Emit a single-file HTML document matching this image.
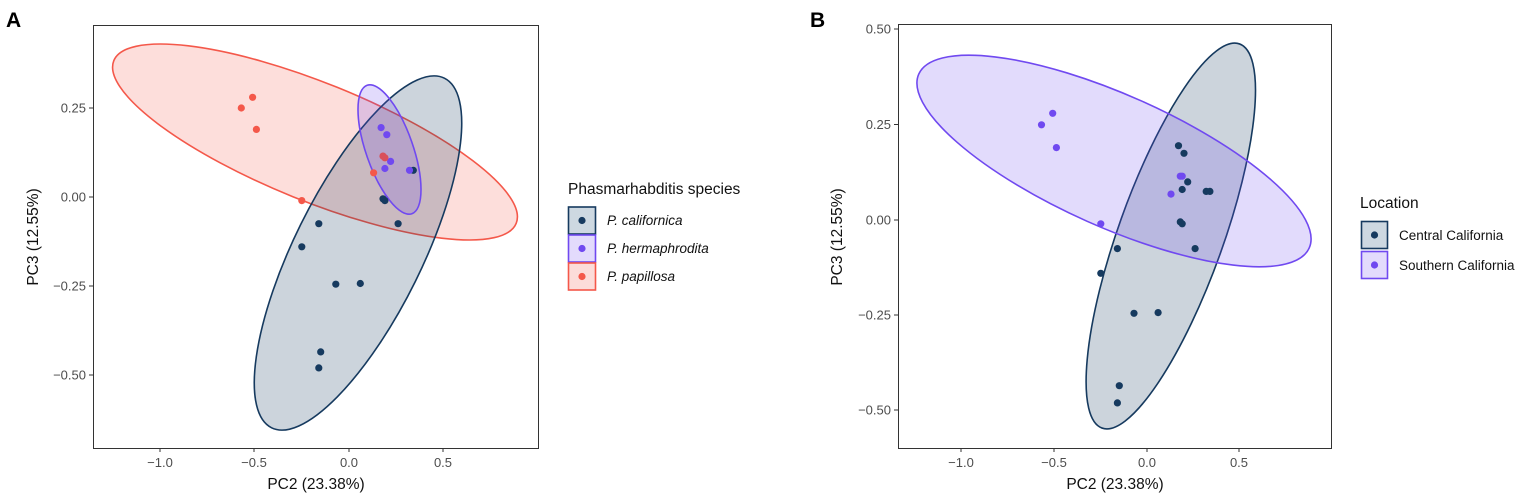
<!DOCTYPE html>
<html><head><meta charset="utf-8"><style>
body{margin:0;background:#fff}
svg{display:block;font-family:"Liberation Sans",sans-serif}
.t{font-size:13px;fill:#4d4d4d}
.at{font-size:15.5px;fill:#111}
.lg{font-size:13.5px;fill:#111}
</style></head><body>
<svg width="1535" height="497" viewBox="0 0 1535 497">
<text x="6" y="27" font-size="21" font-weight="bold">A</text>
<text x="810" y="27" font-size="21" font-weight="bold">B</text>

<!-- Panel A -->
<g>
<ellipse cx="315" cy="142" rx="217" ry="59" transform="rotate(22 315 142)" fill="rgba(244,88,74,0.2)" stroke="#F4584A" stroke-width="1.6"/>
<ellipse cx="358" cy="253" rx="195" ry="64" transform="rotate(-63.7 358 253)" fill="rgba(22,58,95,0.22)" stroke="#163A5F" stroke-width="1.6"/>
<ellipse cx="389.5" cy="149.5" rx="68" ry="23.5" transform="rotate(70.8 389.5 149.5)" fill="rgba(112,73,240,0.2)" stroke="#7049F0" stroke-width="1.6"/>
<g fill="#163A5F">
<circle cx="413.3" cy="170.3" r="3.6"/><circle cx="383" cy="198.8" r="3.6"/><circle cx="384.9" cy="200.6" r="3.6"/><circle cx="398.1" cy="223.7" r="3.6"/><circle cx="318.8" cy="223.7" r="3.6"/><circle cx="301.8" cy="246.8" r="3.6"/><circle cx="335.8" cy="284.2" r="3.6"/><circle cx="360.3" cy="283.5" r="3.6"/><circle cx="320.7" cy="351.9" r="3.6"/><circle cx="318.8" cy="367.9" r="3.6"/>
</g>
<g fill="#7049F0">
<circle cx="381.1" cy="127.6" r="3.6"/><circle cx="386.8" cy="134.7" r="3.6"/><circle cx="390.6" cy="161.4" r="3.6"/><circle cx="384.9" cy="168.5" r="3.6"/><circle cx="409.5" cy="170.3" r="3.6"/>
</g>
<g fill="#F4584A">
<circle cx="241.3" cy="108" r="3.6"/><circle cx="252.6" cy="97.3" r="3.6"/><circle cx="256.4" cy="129.4" r="3.6"/><circle cx="383" cy="156.1" r="3.6" fill="#d9505a"/><circle cx="384.9" cy="157.8" r="3.6" fill="#d9505a"/><circle cx="373.6" cy="172.8" r="3.6"/><circle cx="301.8" cy="200.6" r="3.6"/>
</g>
<rect x="93.5" y="25.5" width="445" height="423" fill="none" stroke="#333" stroke-width="1"/>
<g stroke="#333"><line x1="89" x2="93" y1="108" y2="108"/><line x1="89" x2="93" y1="197" y2="197"/><line x1="89" x2="93" y1="286" y2="286"/><line x1="89" x2="93" y1="375" y2="375"/>
<line x1="160" x2="160" y1="448" y2="452"/><line x1="254" x2="254" y1="448" y2="452"/><line x1="349" x2="349" y1="448" y2="452"/><line x1="443" x2="443" y1="448" y2="452"/></g>
<g class="t" text-anchor="end"><text x="86" y="112.5">0.25</text><text x="86" y="201.5">0.00</text><text x="86" y="290.5">−0.25</text><text x="86" y="379.5">−0.50</text></g>
<g class="t" text-anchor="middle"><text x="160" y="467">−1.0</text><text x="254" y="467">−0.5</text><text x="349" y="467">0.0</text><text x="443" y="467">0.5</text></g>
<text class="at" x="316" y="489" text-anchor="middle">PC2 (23.38%)</text>
<text class="at" transform="translate(38 237) rotate(-90)" text-anchor="middle">PC3 (12.55%)</text>
<text x="568" y="194" font-size="15.5" fill="#111">Phasmarhabditis species</text>
<rect x="568.5" y="207" width="27" height="27" fill="#cdd8e1" stroke="#163A5F" stroke-width="1.6"/><circle cx="582" cy="220.5" r="3.6" fill="#163A5F"/>
<rect x="568.5" y="235" width="27" height="27" fill="#e3dbfc" stroke="#7049F0" stroke-width="1.6"/><circle cx="582" cy="248.5" r="3.6" fill="#7049F0"/>
<rect x="568.5" y="263" width="27" height="27" fill="#fcdcd9" stroke="#F4584A" stroke-width="1.6"/><circle cx="582" cy="276.5" r="3.6" fill="#F4584A"/>
<g class="lg" font-style="italic"><text x="607" y="225">P. californica</text><text x="607" y="253">P. hermaphrodita</text><text x="607" y="281">P. papillosa</text></g>
</g>

<!-- Panel B -->
<g>
<ellipse cx="1170.8" cy="236" rx="204" ry="52.5" transform="rotate(-70.3 1170.8 236)" fill="rgba(22,58,95,0.22)" stroke="#163A5F" stroke-width="1.6"/>
<ellipse cx="1114" cy="161" rx="213.7" ry="66" transform="rotate(24 1114 161)" fill="rgba(112,73,240,0.2)" stroke="#7049F0" stroke-width="1.6"/>
<g fill="#163A5F">
<circle cx="1178.5" cy="145.7" r="3.6"/><circle cx="1184" cy="153.3" r="3.6"/><circle cx="1187.7" cy="181.9" r="3.6"/><circle cx="1182.2" cy="189.5" r="3.6"/><circle cx="1206.2" cy="191.4" r="3.6"/><circle cx="1209.9" cy="191.4" r="3.6"/><circle cx="1180.3" cy="221.9" r="3.6"/><circle cx="1182.2" cy="223.8" r="3.6"/><circle cx="1195.1" cy="248.6" r="3.6"/><circle cx="1117.4" cy="248.6" r="3.6"/><circle cx="1100.8" cy="273.3" r="3.6"/><circle cx="1134" cy="313.3" r="3.6"/><circle cx="1158.1" cy="312.6" r="3.6"/><circle cx="1119.3" cy="385.7" r="3.6"/><circle cx="1117.4" cy="402.9" r="3.6"/>
</g>
<g fill="#7049F0">
<circle cx="1041.5" cy="124.8" r="3.6"/><circle cx="1052.7" cy="113.3" r="3.6"/><circle cx="1056.4" cy="147.6" r="3.6"/><circle cx="1180.3" cy="176.2" r="3.6"/><circle cx="1182.2" cy="176.2" r="3.6"/><circle cx="1171" cy="194.1" r="3.6"/><circle cx="1100.8" cy="223.8" r="3.6"/>
</g>
<rect x="898.5" y="24.5" width="433" height="424" fill="none" stroke="#333" stroke-width="1"/>
<g stroke="#333"><line x1="894" x2="898" y1="29" y2="29"/><line x1="894" x2="898" y1="124.5" y2="124.5"/><line x1="894" x2="898" y1="220" y2="220"/><line x1="894" x2="898" y1="315" y2="315"/><line x1="894" x2="898" y1="410" y2="410"/>
<line x1="961" x2="961" y1="448" y2="452"/><line x1="1054" x2="1054" y1="448" y2="452"/><line x1="1147" x2="1147" y1="448" y2="452"/><line x1="1239" x2="1239" y1="448" y2="452"/></g>
<g class="t" text-anchor="end"><text x="891" y="33.5">0.50</text><text x="891" y="129">0.25</text><text x="891" y="224.5">0.00</text><text x="891" y="319.5">−0.25</text><text x="891" y="414.5">−0.50</text></g>
<g class="t" text-anchor="middle"><text x="961" y="467">−1.0</text><text x="1054" y="467">−0.5</text><text x="1147" y="467">0.0</text><text x="1239" y="467">0.5</text></g>
<text class="at" x="1115" y="489" text-anchor="middle">PC2 (23.38%)</text>
<text class="at" transform="translate(842 237) rotate(-90)" text-anchor="middle">PC3 (12.55%)</text>
<text x="1360" y="208" font-size="15.5" fill="#111">Location</text>
<rect x="1361.5" y="221.5" width="26" height="27" fill="#cdd8e1" stroke="#163A5F" stroke-width="1.6"/><circle cx="1374.5" cy="235" r="3.6" fill="#163A5F"/>
<rect x="1361.5" y="251.5" width="26" height="27" fill="#e3dbfc" stroke="#7049F0" stroke-width="1.6"/><circle cx="1374.5" cy="265" r="3.6" fill="#7049F0"/>
<g class="lg"><text x="1399" y="240">Central California</text><text x="1399" y="270">Southern California</text></g>
</g>
</svg>
</body></html>
